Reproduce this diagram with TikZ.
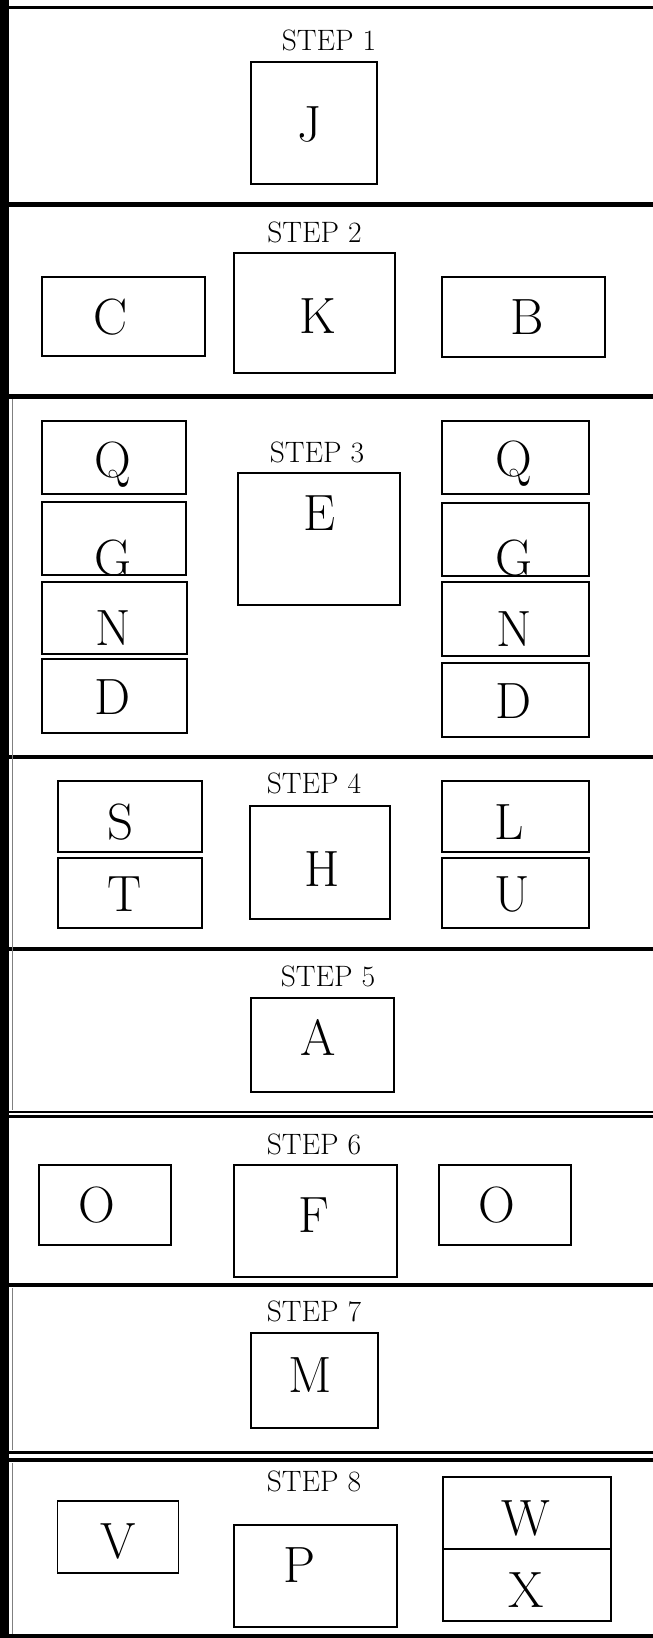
\documentclass[tikz,border=0pt]{standalone}
\usepackage{fontspec}
\begin{document}
\begin{tikzpicture}[x=1pt,y=-1pt,
  bx/.style={draw, line width=1.4pt, inner sep=0pt, rectangle},
  lt/.style={font=\fontsize{51}{51}\selectfont, inner sep=0pt, anchor=base},
  stp/.style={font=\fontsize{29.5}{29.5}\selectfont, inner sep=0pt, anchor=base},
  divl/.style={line width=4.5pt},
  thinl/.style={line width=0.7pt, black!50}]
\useasboundingbox (0,0) rectangle (653,1638);
% frame lines
\fill (0,0) rectangle (8.5,1638);
\draw[line width=3.2pt] (8,7.5) -- (653,7.5);
\foreach \yy in {204.5,396.5,757,949,1285} \draw[divl] (8,\yy) -- (653,\yy);
\draw[line width=2.5pt] (8,1112) -- (653,1112);
\draw[line width=3.5pt] (8,1116.5) -- (653,1116.5);
\draw[line width=3.5pt] (8,1452.5) -- (653,1452.5);
\draw[line width=4pt] (8,1460) -- (653,1460);
\draw[line width=4pt] (8,1636) -- (653,1636);
\draw[thinl] (12,399) -- (12,1110);
\draw[thinl] (12,1288) -- (12,1450);
\draw[thinl] (12,1463) -- (12,1634);
% STEP 1
\node[stp] (s1) at (329,50) {STEP 1};
\node[bx, minimum width=126pt, minimum height=122pt] (bJ) at (314,123) {};
\node[lt] (tJ) at (310,141) {J};
% STEP 2
\node[stp] (s2) at (314.5,242) {STEP 2};
\node[bx, minimum width=163pt, minimum height=79pt] (bC) at (123.5,316.5) {};
\node[lt] (tC) at (111,334) {C};
\node[bx, minimum width=161pt, minimum height=120pt] (bK) at (314.5,313) {};
\node[lt] (tK) at (318,333) {K};
\node[bx, minimum width=163pt, minimum height=80pt] (bB) at (523.5,317) {};
\node[lt] (tB) at (527,334) {B};
% STEP 3
\node[stp] (s3) at (317,462) {STEP 3};
\node[bx, minimum width=144pt, minimum height=73pt] (bQL) at (114,457.5) {};
\node[lt] (tQL) at (113,477) {Q};
\node[bx, minimum width=144pt, minimum height=73pt] (bGL) at (114,538.5) {};
\node[lt] (tGL) at (113,575) {G};
\node[bx, minimum width=145pt, minimum height=72pt] (bNL) at (114.5,618) {};
\node[lt] (tNL) at (113,645) {N};
\node[bx, minimum width=145pt, minimum height=74pt] (bDL) at (114.5,696) {};
\node[lt] (tDL) at (113,714) {D};
\node[bx, minimum width=147pt, minimum height=73pt] (bQR) at (515.5,457.5) {};
\node[lt] (tQR) at (514,476) {Q};
\node[bx, minimum width=147pt, minimum height=73pt] (bGR) at (515.5,539.5) {};
\node[lt] (tGR) at (514,575) {G};
\node[bx, minimum width=147pt, minimum height=74pt] (bNR) at (515.5,619) {};
\node[lt] (tNR) at (514,646) {N};
\node[bx, minimum width=147pt, minimum height=74pt] (bDR) at (515.5,700) {};
\node[lt] (tDR) at (514,718) {D};
\node[bx, minimum width=162pt, minimum height=132pt] (bE) at (319,539) {};
\node[lt] (tE) at (320,530) {E};
% STEP 4
\node[stp] (s4) at (314,793) {STEP 4};
\node[bx, minimum width=144pt, minimum height=71pt] (bS) at (130,816.5) {};
\node[lt] (tS) at (121,839) {S};
\node[bx, minimum width=144pt, minimum height=70pt] (bT) at (130,893) {};
\node[lt] (tT) at (125,911) {T};
\node[bx, minimum width=140pt, minimum height=113pt] (bH) at (320,862.5) {};
\node[lt] (tH) at (322,886) {H};
\node[bx, minimum width=147pt, minimum height=71pt] (bL) at (515.5,816.5) {};
\node[lt] (tL) at (509,839) {L};
\node[bx, minimum width=147pt, minimum height=70pt] (bU) at (515.5,893) {};
\node[lt] (tU) at (512,911) {U};
% STEP 5
\node[stp] (s5) at (328,986) {STEP 5};
\node[bx, minimum width=143pt, minimum height=94pt] (bA) at (322.5,1045) {};
\node[lt] (tA) at (318,1055) {A};
% STEP 6
\node[stp] (s6) at (314,1154) {STEP 6};
\node[bx, minimum width=132pt, minimum height=80pt] (bOL) at (105,1205) {};
\node[lt] (tOL) at (97,1222) {O};
\node[bx, minimum width=163pt, minimum height=112pt] (bF) at (315.5,1221) {};
\node[lt] (tF) at (314,1232) {F};
\node[bx, minimum width=132pt, minimum height=80pt] (bOR) at (505,1205) {};
\node[lt] (tOR) at (497,1222) {O};
% STEP 7
\node[stp] (s7) at (314,1321) {STEP 7};
\node[bx, minimum width=127pt, minimum height=95pt] (bM) at (314.5,1380.5) {};
\node[lt] (tM) at (310,1392) {M};
% STEP 8
\node[stp] (s8) at (314,1491) {STEP 8};
\node[bx, minimum width=121pt, minimum height=72pt] (bV) at (118,1537) {};
\node[lt] (tV) at (118,1558) {V};
\node[bx, minimum width=163pt, minimum height=102pt] (bP) at (315.5,1576) {};
\node[lt] (tP) at (300,1582) {P};
\node[bx, minimum width=168pt, minimum height=72pt] (bW) at (527,1513) {};
\node[lt] (tW) at (526,1535) {W};
\node[bx, minimum width=168pt, minimum height=72pt] (bX) at (527,1585) {};
\node[lt] (tX) at (526,1607) {X};
\end{tikzpicture}
\end{document}
